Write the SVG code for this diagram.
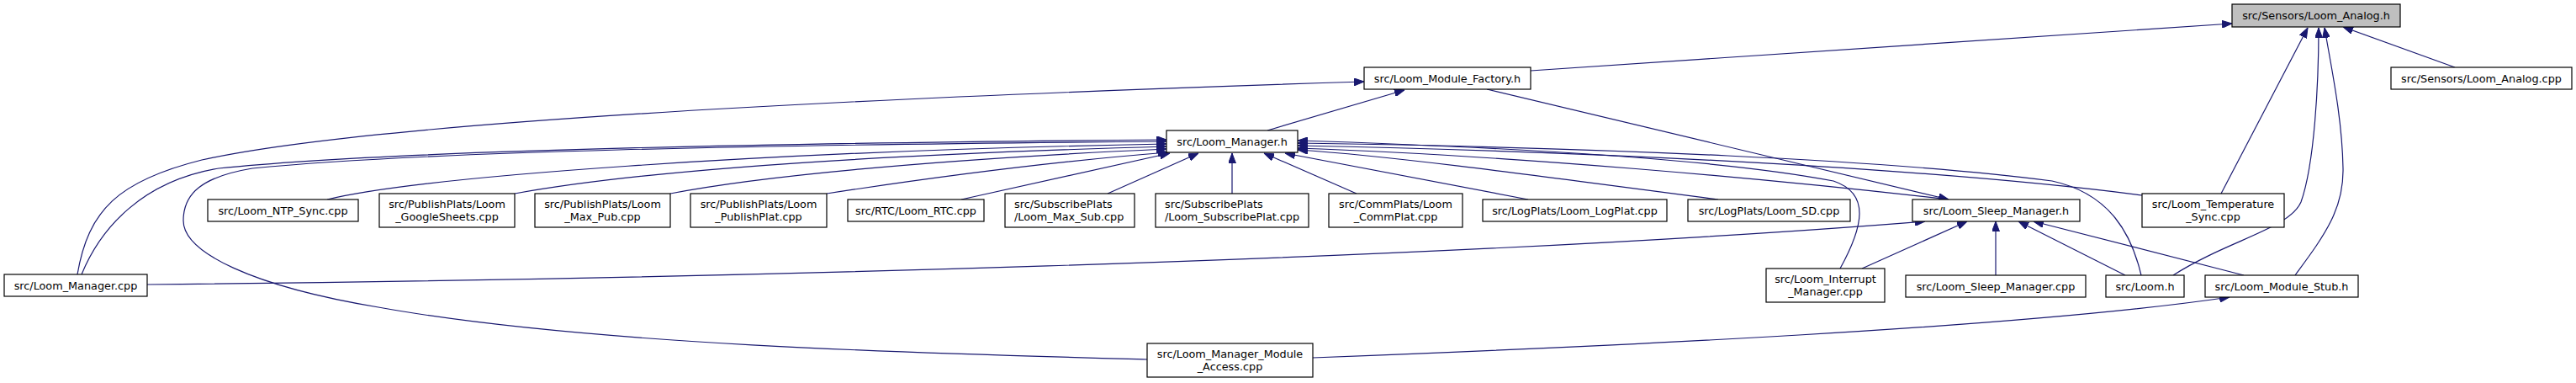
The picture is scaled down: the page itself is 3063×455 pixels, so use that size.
<svg xmlns="http://www.w3.org/2000/svg" width="3063" height="455" viewBox="0 0 3063 455">
<style>
.node rect{fill:#ffffff;stroke:#000000;stroke-width:1.2}
.root rect{fill:#bfbfbf}
text{font-family:"DejaVu Sans","Liberation Sans",sans-serif;font-size:12.8px;fill:#000000}
.c{text-anchor:middle}
.edge{fill:none;stroke:#191970;stroke-width:1.2;marker-end:url(#arr)}
</style>
<defs>
<marker id="arr" viewBox="0 0 12 9" refX="12" refY="4.5" markerWidth="12" markerHeight="9" markerUnits="userSpaceOnUse" orient="auto">
<path d="M0,0 L12,4.5 L0,9 z" fill="#191970" stroke="#191970"/>
</marker>
</defs>
<rect width="3063" height="455" fill="#ffffff"/>
<g id="edges">
<path class="edge" d="M1820,84 L2654,28"/>
<path class="edge" d="M2641,230 L2744,33"/>
<path class="edge" d="M2584,327 C2650,285 2722,272 2736,240 C2752,195 2757,100 2757,33"/>
<path class="edge" d="M2729,327 C2762,282 2787,250 2786,200 C2785,140 2772,80 2764,33"/>
<path class="edge" d="M2919,80 L2786,32"/>
<path class="edge" d="M92,326 C105,250 140,215 240,190 C420,150 900,120 1622,97"/>
<path class="edge" d="M1507,155 L1670,107"/>
<path class="edge" d="M1768,106 L2317,237"/>
<path class="edge" d="M97,326 C120,270 170,215 260,200 C450,180 900,170 1387,166"/>
<path class="edge" d="M1364,427 C1100,420 700,410 450,365 C300,340 218,300 218,262 C218,230 240,210 300,200 C500,180 900,172 1387,168"/>
<path class="edge" d="M389,237 C500,210 900,180 1387,171"/>
<path class="edge" d="M612,230 C750,205 1000,185 1387,174"/>
<path class="edge" d="M797,230 C900,210 1100,190 1387,177"/>
<path class="edge" d="M983,230 C1100,212 1250,192 1389,181"/>
<path class="edge" d="M1143,237 L1391,182"/>
<path class="edge" d="M1317,230 L1425,182"/>
<path class="edge" d="M1465,230 L1465,182"/>
<path class="edge" d="M1613,230 L1503,182"/>
<path class="edge" d="M1817,237 L1528,182"/>
<path class="edge" d="M2043,237 C1800,205 1650,185 1543,178"/>
<path class="edge" d="M2317,237 C2100,212 1800,185 1543,176"/>
<path class="edge" d="M2547,232 C2300,200 1900,180 1543,173"/>
<path class="edge" d="M2546,327 C2535,280 2510,230 2440,215 C2250,190 1900,175 1543,170"/>
<path class="edge" d="M2188,319 C2215,270 2225,230 2180,215 C2050,190 1800,175 1543,167"/>
<path class="edge" d="M175,338 C800,332 1700,310 2289,263"/>
<path class="edge" d="M2214,319 L2339,263"/>
<path class="edge" d="M2373,327 L2373,263"/>
<path class="edge" d="M2527,327 L2400,263"/>
<path class="edge" d="M2668,327 L2418,263"/>
<path class="edge" d="M1561,425 C1900,412 2400,390 2651,353"/>
</g>
<g id="n_analog_h" class="node root"><rect x="2654" y="5" width="200" height="27"/><text class="c" x="2754" y="23">src/Sensors/Loom_Analog.h</text></g>
<g id="n_analog_cpp" class="node"><rect x="2843" y="80" width="215" height="26"/><text class="c" x="2950.5" y="97.5">src/Sensors/Loom_Analog.cpp</text></g>
<g id="n_factory" class="node"><rect x="1622" y="80" width="198" height="26"/><text class="c" x="1721" y="97.5">src/Loom_Module_Factory.h</text></g>
<g id="n_mgr_h" class="node"><rect x="1387" y="155" width="156" height="26"/><text class="c" x="1465" y="172.5">src/Loom_Manager.h</text></g>
<g id="n_mgr_cpp" class="node"><rect x="5" y="326" width="170" height="26"/><text class="c" x="90" y="343.5">src/Loom_Manager.cpp</text></g>
<g id="n_ntp" class="node"><rect x="247" y="237" width="179" height="26"/><text class="c" x="336.5" y="254.5">src/Loom_NTP_Sync.cpp</text></g>
<g id="n_gsheets" class="node"><rect x="451" y="230" width="161" height="40"/><text class="c" x="531.5" y="246.5">src/PublishPlats/Loom</text><text class="c" x="531.5" y="261.5">_GoogleSheets.cpp</text></g>
<g id="n_maxpub" class="node"><rect x="636" y="230" width="161" height="40"/><text class="c" x="716.5" y="246.5">src/PublishPlats/Loom</text><text class="c" x="716.5" y="261.5">_Max_Pub.cpp</text></g>
<g id="n_pubplat" class="node"><rect x="821" y="230" width="162" height="40"/><text class="c" x="902" y="246.5">src/PublishPlats/Loom</text><text class="c" x="902" y="261.5">_PublishPlat.cpp</text></g>
<g id="n_rtc" class="node"><rect x="1008" y="237" width="162" height="26"/><text class="c" x="1089" y="254.5">src/RTC/Loom_RTC.cpp</text></g>
<g id="n_maxsub" class="node"><rect x="1195" y="230" width="154" height="40"/><text x="1206" y="246.5">src/SubscribePlats</text><text x="1206" y="261.5">/Loom_Max_Sub.cpp</text></g>
<g id="n_subplat" class="node"><rect x="1374" y="230" width="182" height="40"/><text x="1385" y="246.5">src/SubscribePlats</text><text x="1385" y="261.5">/Loom_SubscribePlat.cpp</text></g>
<g id="n_commplat" class="node"><rect x="1580" y="230" width="159" height="40"/><text class="c" x="1659.5" y="246.5">src/CommPlats/Loom</text><text class="c" x="1659.5" y="261.5">_CommPlat.cpp</text></g>
<g id="n_logplat" class="node"><rect x="1763" y="237" width="219" height="26"/><text class="c" x="1872.5" y="254.5">src/LogPlats/Loom_LogPlat.cpp</text></g>
<g id="n_sd" class="node"><rect x="2007" y="237" width="193" height="26"/><text class="c" x="2103.5" y="254.5">src/LogPlats/Loom_SD.cpp</text></g>
<g id="n_sleep_h" class="node"><rect x="2274" y="237" width="199" height="26"/><text class="c" x="2373.5" y="254.5">src/Loom_Sleep_Manager.h</text></g>
<g id="n_temp" class="node"><rect x="2547" y="230" width="169" height="40"/><text class="c" x="2631.5" y="246.5">src/Loom_Temperature</text><text class="c" x="2631.5" y="261.5">_Sync.cpp</text></g>
<g id="n_interrupt" class="node"><rect x="2100" y="319" width="141" height="40"/><text class="c" x="2170.5" y="335.5">src/Loom_Interrupt</text><text class="c" x="2170.5" y="350.5">_Manager.cpp</text></g>
<g id="n_sleep_cpp" class="node"><rect x="2266" y="327" width="214" height="26"/><text class="c" x="2373" y="344.5">src/Loom_Sleep_Manager.cpp</text></g>
<g id="n_loom_h" class="node"><rect x="2504" y="327" width="93" height="26"/><text class="c" x="2550.5" y="344.5">src/Loom.h</text></g>
<g id="n_stub" class="node"><rect x="2622" y="327" width="182" height="26"/><text class="c" x="2713" y="344.5">src/Loom_Module_Stub.h</text></g>
<g id="n_access" class="node"><rect x="1364" y="408" width="197" height="40"/><text class="c" x="1462.5" y="424.5">src/Loom_Manager_Module</text><text class="c" x="1462.5" y="439.5">_Access.cpp</text></g>
</svg>
